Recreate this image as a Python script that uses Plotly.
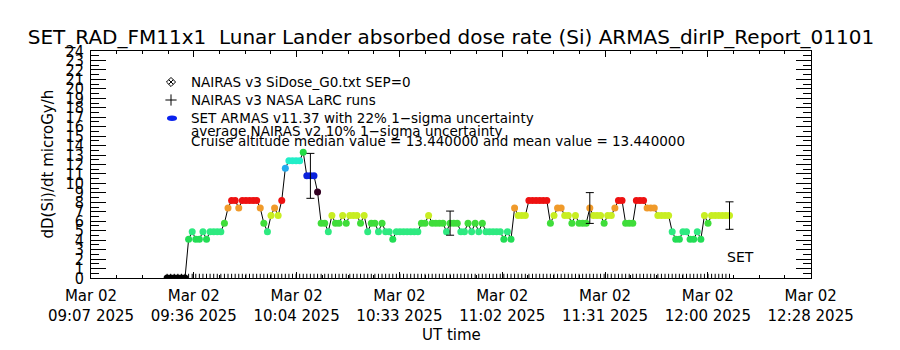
import plotly.graph_objects as go
import pandas as pd

# ---------------- data ----------------
TITLE = "SET_RAD_FM11x1  Lunar Lander absorbed dose rate (Si) ARMAS_dirIP_Report_01101"
Y_TITLE = "dD(Si)/dt microGy/h"
X_TITLE = "UT time"

AXIS_START = "2025-03-02 09:07:00"
AXIS_END = "2025-03-02 12:28:00"
N_MAJOR = 7
X_TICK_TEXT = ["Mar 02<br>09:07 2025", "Mar 02<br>09:36 2025", "Mar 02<br>10:04 2025",
               "Mar 02<br>10:33 2025", "Mar 02<br>11:02 2025", "Mar 02<br>11:31 2025",
               "Mar 02<br>12:00 2025", "Mar 02<br>12:28 2025"]
Y_TICKS = list(range(0, 25))

DATA_START = "2025-03-02 09:28:15"
CADENCE_S = 60
ARMAS_DOSE = [
    0, 0, 0, 0, 0, 0, 4.1, 4.9, 4.1, 4.1,
    4.9, 4.1, 4.9, 4.9, 4.9, 4.9, 5.8, 7.4, 8.2, 8.2,
    7.4, 8.2, 8.2, 8.2, 8.2, 8.2, 7.4, 5.8, 4.9, 6.6,
    7.4, 6.6, 8.2, 11.6, 12.4, 12.4, 12.4, 12.4, 13.3, 10.8,
    10.8, 10.8, 9.1, 5.8, 5.8, 4.9, 6.6, 5.8, 5.8, 6.6,
    5.8, 6.6, 6.6, 6.6, 5.8, 6.6, 4.9, 5.8, 5.8, 4.9,
    5.8, 4.9, 4.9, 4.1, 4.9, 4.9, 4.9, 4.9, 4.9, 4.9,
    4.9, 5.8, 5.8, 6.6, 5.8, 5.8, 5.8, 5.8, 4.9, 5.8,
    5.8, 5.8, 4.9, 4.9, 5.8, 4.9, 5.8, 4.9, 5.8, 4.9,
    4.9, 4.9, 4.9, 4.9, 4.1, 4.9, 4.1, 7.4, 6.6, 6.6,
    6.6, 8.2, 8.2, 8.2, 8.2, 8.2, 8.2, 5.8, 6.6, 7.4,
    7.4, 6.6, 6.6, 5.8, 6.6, 5.8, 5.8, 5.8, 7.4, 6.6,
    6.6, 6.6, 5.8, 6.6, 6.6, 7.4, 8.2, 8.2, 5.8, 5.8,
    5.8, 8.2, 8.2, 8.2, 7.4, 7.4, 7.4, 6.6, 6.6, 6.6,
    6.6, 4.9, 4.1, 4.1, 4.9, 4.9, 4.1, 4.1, 4.9, 4.1,
    6.6, 5.8, 6.6, 6.6, 6.6, 6.6, 6.6, 6.6,
]
NAIRAS_LARC = [0.0] * len(ARMAS_DOSE)   # NAIRAS v3 NASA LaRC runs, near zero
ERRBAR_INDEX = [40, 79, 118, 157]
SIGMA_FRAC = 0.22

LEVEL_COLORS = {
    0: "#000000", 4.1: "#22dd55", 4.9: "#2eea80", 5.8: "#3fdd3a", 6.6: "#c8ee22",
    7.4: "#f09a2a", 8.2: "#ee1111", 9.1: "#330022", 10.8: "#0a22dd",
    11.6: "#22aaee", 12.4: "#22eec8", 13.3: "#22dd44",
}

LEGEND_LINES = [
    "NAIRAS v3 SiDose_G0.txt SEP=0",
    "NAIRAS v3 NASA LaRC runs",
    "SET ARMAS v11.37 with 22% 1\u2212sigma uncertainty",
    "average NAIRAS v2 10% 1\u2212sigma uncertainty",
    "Cruise altitude median value = 13.440000 and mean value = 13.440000",
]

# ---------------- build ----------------
FONT = "DejaVu Sans"
NARROW = "Liberation Sans Narrow, DejaVu Sans Condensed, Arial Narrow, DejaVu Sans"

times = pd.date_range(DATA_START, periods=len(ARMAS_DOSE), freq=f"{CADENCE_S}s")
t0 = pd.Timestamp(AXIS_START)
t1 = pd.Timestamp(AXIS_END)
step = (t1 - t0) / N_MAJOR
tickvals = [t0 + k * step for k in range(N_MAJOR + 1)]
minor_ms = step.total_seconds() * 1000 / 4

colors = [LEVEL_COLORS.get(v, "#22dd55") for v in ARMAS_DOSE]

fig = go.Figure()

# NAIRAS LaRC (+) markers along the bottom
fig.add_trace(go.Scatter(
    x=times, y=[v + 0.15 for v in NAIRAS_LARC], mode="markers",
    marker=dict(symbol="line-ns", size=4, line=dict(width=1, color="black")),
    showlegend=False, hoverinfo="skip"))

# ARMAS line + markers
fig.add_trace(go.Scatter(
    x=times, y=ARMAS_DOSE, mode="lines+markers",
    line=dict(color="black", width=1),
    marker=dict(symbol="circle", size=7, color=colors, line=dict(width=0)),
    showlegend=False))

# error bars
eb_x = [times[i] for i in ERRBAR_INDEX]
eb_y = [ARMAS_DOSE[i] for i in ERRBAR_INDEX]
eb_e = [SIGMA_FRAC * v for v in eb_y]
fig.add_trace(go.Scatter(
    x=eb_x, y=eb_y, mode="markers",
    marker=dict(size=1, color="rgba(0,0,0,0)"),
    error_y=dict(type="data", array=eb_e, symmetric=True, color="black",
                 thickness=1, width=4),
    showlegend=False, hoverinfo="skip"))

# legend symbols on an overlay paper-like axis
leg_y = [(278 - 82) / 227, (278 - 100) / 227, (278 - 118) / 227]
leg_x = (171 - 91) / 720
fig.add_trace(go.Scatter(x=[leg_x], y=[leg_y[0]], xaxis="x2", yaxis="y2", mode="markers",
                         marker=dict(symbol="diamond-x-open", size=7, color="black",
                                     line=dict(width=1, color="black")),
                         showlegend=False, hoverinfo="skip"))
fig.add_trace(go.Scatter(x=[leg_x], y=[leg_y[1]], xaxis="x2", yaxis="y2", mode="markers",
                         marker=dict(symbol="cross-thin", size=8,
                                     line=dict(width=1, color="black")),
                         showlegend=False, hoverinfo="skip"))
fig.add_shape(type="circle", xref="paper", yref="paper",
              x0=(167 - 91) / 720, x1=(177 - 91) / 720,
              y0=(278 - 121) / 227, y1=(278 - 115.5) / 227,
              fillcolor="#0a22ee", line=dict(width=0))

txt_x = (189 - 91) / 720
txt_y = leg_y + [(278 - 131) / 227, (278 - 141) / 227]
for s, yy in zip(LEGEND_LINES, txt_y):
    fig.add_annotation(x=txt_x, y=yy, xref="paper", yref="paper", text=s,
                       showarrow=False, xanchor="left", yanchor="middle",
                       font=dict(family=FONT, size=13.5, color="black"))

fig.add_annotation(x=(725 - 91) / 720, y=(278 - 257) / 227, xref="paper", yref="paper",
                   text="SET", showarrow=False, xanchor="left", yanchor="middle",
                   font=dict(family=FONT, size=14, color="black"))

fig.add_annotation(x=(47 - 91) / 720, y=0.5, xref="paper", yref="paper",
                   text=Y_TITLE, textangle=-90, showarrow=False,
                   xanchor="center", yanchor="middle",
                   font=dict(family=FONT, size=15, color="black"))
fig.add_annotation(x=0.5, y=(278 - 335) / 227, xref="paper", yref="paper",
                   text=X_TITLE, showarrow=False, xanchor="center", yanchor="middle",
                   font=dict(family=FONT, size=15, color="black"))

fig.update_layout(
    width=900, height=350,
    margin=dict(l=91, r=89, t=51, b=72),
    paper_bgcolor="white", plot_bgcolor="white",
    title=dict(text=TITLE, x=0.5, xref="paper", xanchor="center",
               y=1 - 37 / 350, yanchor="middle", yref="container",
               font=dict(family=FONT, size=20, color="black")),
    xaxis=dict(type="date", range=[t0, t1], tickmode="array", tickvals=tickvals,
               ticktext=X_TICK_TEXT, ticks="inside", ticklen=6, tickcolor="black",
               showline=True, linecolor="black", linewidth=1, mirror="allticks",
               showgrid=False, zeroline=False, ticklabelstandoff=4,
               tickfont=dict(family=FONT, size=15, color="black"),
               minor=dict(tick0=t0, dtick=minor_ms, ticks="inside", ticklen=3,
                          tickcolor="black", showgrid=False)),
    yaxis=dict(range=[0, 24], tickmode="array", tickvals=Y_TICKS,
               ticktext=[str(v) for v in Y_TICKS], ticks="inside", ticklen=15,
               tickcolor="black", showline=True, linecolor="black", linewidth=1,
               mirror="allticks", showgrid=False, zeroline=False, ticklabelstandoff=3,
               tickfont=dict(family=NARROW, size=16, color="black"),
               minor=dict(dtick=0.5, tick0=0, ticks="inside", ticklen=8,
                          tickcolor="black", showgrid=False)),
    xaxis2=dict(overlaying="x", range=[0, 1], visible=False),
    yaxis2=dict(overlaying="y", range=[0, 1], visible=False),
    showlegend=False,
)

fig.write_html("out.html")
